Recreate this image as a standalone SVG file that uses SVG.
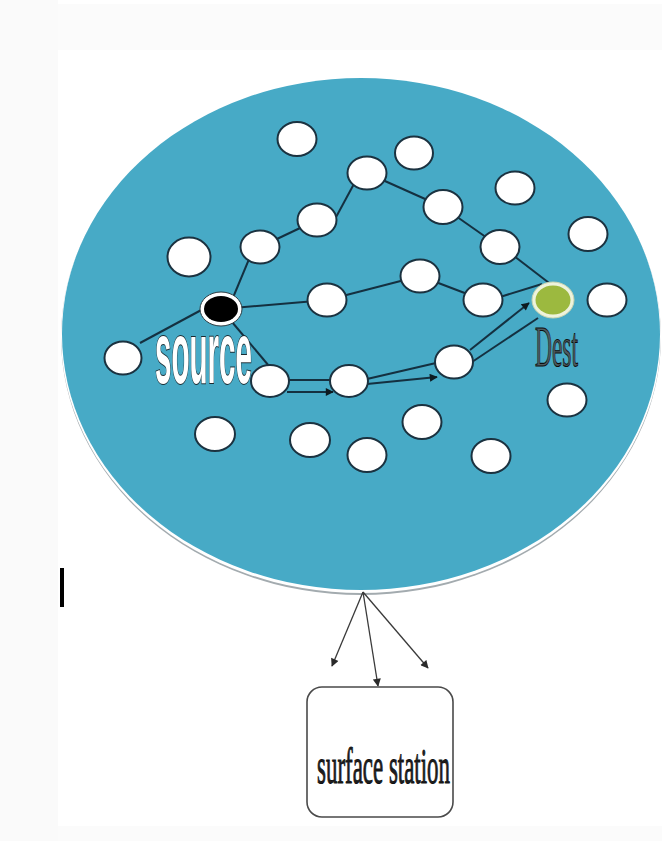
<svg xmlns="http://www.w3.org/2000/svg" width="662" height="841" viewBox="0 0 662 841">
  <style>
    .node { fill: #ffffff; stroke: #1b3240; stroke-width: 2; }
    .link { stroke: #143040; stroke-width: 2; fill: none; }
    .drop { stroke: #3a3a3a; stroke-width: 1.3; fill: none; }
    .src-label { font-family: "Liberation Sans", Arial, sans-serif; font-weight: bold; font-size: 88px; fill: #ffffff; stroke: #1a2a30; stroke-width: 2; paint-order: stroke; }
    .dst-label { font-family: "Liberation Serif", "Times New Roman", serif; font-size: 58px; fill: #4f5c61; stroke: #0d0d0d; stroke-width: 1.1; }
    .box-label { font-family: "Liberation Serif", "Times New Roman", serif; font-size: 50px; fill: #1e1e1e; stroke: #111111; stroke-width: 1; }
  </style>
  <defs>
    <marker id="head" viewBox="0 0 10 10" refX="9" refY="5" markerWidth="10" markerHeight="8" markerUnits="userSpaceOnUse" orient="auto">
      <path d="M0,0 L10,5 L0,10 z" fill="#0d1a20"/>
    </marker>
    <marker id="headThin" viewBox="0 0 10 10" refX="9" refY="5" markerWidth="9" markerHeight="8" markerUnits="userSpaceOnUse" orient="auto">
      <path d="M0,0 L10,5 L0,10 z" fill="#2a2a2a"/>
    </marker>
  </defs>

  <!-- page -->
  <rect x="0" y="0" width="662" height="841" fill="#ffffff"/>
  <rect x="0" y="0" width="58" height="841" fill="#fafafa"/>
  <rect x="58" y="4" width="604" height="46" fill="#fbfbfb"/>
  <rect x="58" y="826" width="604" height="15" fill="#fbfbfb"/>
  <rect x="60" y="568" width="4" height="39" fill="#000000"/>

  <!-- sensor field -->
  <g id="field">
    <ellipse cx="361" cy="337" rx="300" ry="258" fill="#a3abaf"/>
    <ellipse cx="361" cy="336" rx="300" ry="257" fill="#ffffff"/>
    <ellipse cx="361" cy="334" rx="299" ry="256" fill="#47aac6"/>
  </g>

  <!-- connectors -->
  <g id="connectors">
    <line class="link" x1="140" y1="343" x2="205" y2="308"/>
    <line class="link" x1="232" y1="300" x2="252" y2="252"/>
    <line class="link" x1="260" y1="247" x2="317" y2="220"/>
    <line class="link" x1="335" y1="219" x2="355" y2="182"/>
    <line class="link" x1="367" y1="173" x2="443" y2="207"/>
    <line class="link" x1="443" y1="207" x2="500" y2="247"/>
    <line class="link" x1="514" y1="256" x2="553" y2="286"/>
    <line class="link" x1="221" y1="309" x2="327" y2="300"/>
    <line class="link" x1="327" y1="300" x2="420" y2="276"/>
    <line class="link" x1="420" y1="276" x2="483" y2="300"/>
    <line class="link" x1="500" y1="297" x2="542" y2="284"/>
    <line class="link" x1="232" y1="322" x2="269" y2="366"/>
    <!-- routed path: paired lines with arrowheads -->
    <line class="link" x1="289" y1="380" x2="331" y2="380"/>
    <line class="link" x1="287" y1="392" x2="333" y2="392" marker-end="url(#head)"/>
    <line class="link" x1="367" y1="379" x2="436" y2="363"/>
    <line class="link" x1="367" y1="384" x2="437" y2="377" marker-end="url(#head)"/>
    <line class="link" x1="470" y1="350" x2="529" y2="303" marker-end="url(#head)"/>
    <line class="link" x1="472" y1="362" x2="538" y2="318"/>
    <!-- uplink to surface station -->
    <line class="drop" x1="363" y1="592" x2="332" y2="666" marker-end="url(#headThin)"/>
    <line class="drop" x1="363" y1="592" x2="378" y2="686" marker-end="url(#headThin)"/>
    <line class="drop" x1="363" y1="592" x2="428" y2="668" marker-end="url(#headThin)"/>
  </g>

  <!-- sensor nodes -->
  <g id="n1"><ellipse class="node" cx="297" cy="139" rx="19.5" ry="17"/></g>
  <g id="n2"><ellipse class="node" cx="414" cy="153" rx="19" ry="16.5"/></g>
  <g id="n3"><ellipse class="node" cx="367" cy="173" rx="19.5" ry="16.5"/></g>
  <g id="n4"><ellipse class="node" cx="515" cy="188" rx="19.5" ry="16.5"/></g>
  <g id="n5"><ellipse class="node" cx="443" cy="207" rx="19.5" ry="17"/></g>
  <g id="n6"><ellipse class="node" cx="317" cy="220" rx="19.5" ry="16.5"/></g>
  <g id="n7"><ellipse class="node" cx="588" cy="234" rx="19.5" ry="17"/></g>
  <g id="n8"><ellipse class="node" cx="189" cy="257" rx="21.5" ry="19.5"/></g>
  <g id="n9"><ellipse class="node" cx="260" cy="247" rx="19.5" ry="16.5"/></g>
  <g id="n10"><ellipse class="node" cx="500" cy="247" rx="19.5" ry="17"/></g>
  <g id="n11"><ellipse class="node" cx="420" cy="276" rx="19.5" ry="16.5"/></g>
  <g id="n12"><ellipse class="node" cx="327" cy="300" rx="19.5" ry="16.5"/></g>
  <g id="n13"><ellipse class="node" cx="483" cy="300" rx="19.5" ry="16.5"/></g>
  <g id="n14"><ellipse class="node" cx="607" cy="300" rx="19.5" ry="16.5"/></g>
  <g id="n15"><ellipse class="node" cx="123" cy="358" rx="18.5" ry="16.5"/></g>
  <g id="n16"><ellipse class="node" cx="270" cy="381" rx="19" ry="16"/></g>
  <g id="n17"><ellipse class="node" cx="349" cy="381" rx="19" ry="16"/></g>
  <g id="n18"><ellipse class="node" cx="454" cy="362" rx="19" ry="16.5"/></g>
  <g id="n19"><ellipse class="node" cx="567" cy="400" rx="19.5" ry="16.5"/></g>
  <g id="n20"><ellipse class="node" cx="422" cy="422" rx="19.5" ry="17"/></g>
  <g id="n21"><ellipse class="node" cx="215" cy="434" rx="20" ry="17"/></g>
  <g id="n22"><ellipse class="node" cx="310" cy="440" rx="20" ry="17"/></g>
  <g id="n23"><ellipse class="node" cx="367" cy="455" rx="19.5" ry="17"/></g>
  <g id="n24"><ellipse class="node" cx="491" cy="456" rx="19.5" ry="17"/></g>

  <!-- source node -->
  <g id="source">
    <ellipse cx="221" cy="309" rx="21" ry="17" fill="#ffffff" stroke="#2a3a40" stroke-width="1"/>
    <ellipse cx="221" cy="309" rx="17" ry="13" fill="#000000"/>
    <text class="src-label" x="155" y="383" textLength="97" lengthAdjust="spacingAndGlyphs">source</text>
  </g>

  <!-- destination node -->
  <g id="dest">
    <ellipse cx="553" cy="300" rx="21" ry="18" fill="#eef3dc" stroke="#c8d4b0" stroke-width="1"/>
    <ellipse cx="553" cy="300" rx="17.5" ry="14.5" fill="#9cb93f"/>
    <text class="dst-label" x="535" y="366" textLength="43" lengthAdjust="spacingAndGlyphs">Dest</text>
  </g>

  <!-- surface station -->
  <g id="station">
    <rect x="307" y="687" width="146" height="130" rx="15" ry="15" fill="#ffffff" stroke="#4a4a4a" stroke-width="1.6"/>
    <text class="box-label" x="317" y="783" textLength="133" lengthAdjust="spacingAndGlyphs">surface station</text>
  </g>
</svg>
